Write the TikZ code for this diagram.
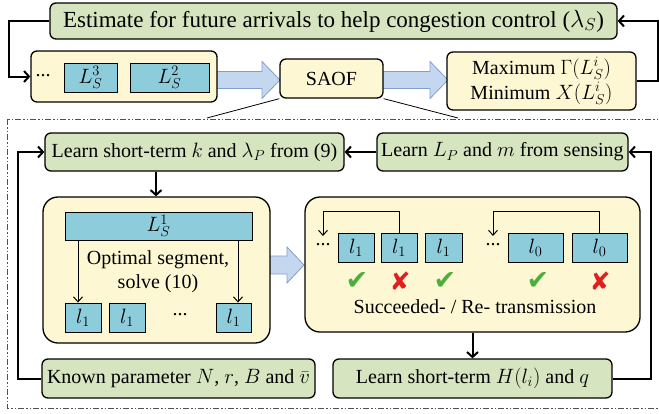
\documentclass[tikz,border=0pt]{standalone}
\usepackage{fontspec}
\setmainfont{Liberation Serif}
\newfontfamily\symfont{DejaVu Sans}
\usetikzlibrary{arrows.meta}
\definecolor{gfill}{HTML}{D6E4BF}
\definecolor{yfill}{HTML}{FDF8D3}
\definecolor{bfill}{HTML}{8DCCDB}
\definecolor{afill}{HTML}{C5D7EE}
\definecolor{aborder}{HTML}{7F9FCF}
\definecolor{chkgreen}{HTML}{4CAF3C}
\definecolor{crossred}{HTML}{E02020}
\definecolor{framegray}{HTML}{505050}
\begin{document}
\begin{tikzpicture}[x=1pt,y=-1pt, font=\fontsize{20}{26}\selectfont,
 box/.style={draw=black, line width=1.3pt, rounded corners=6pt, inner sep=0pt, align=center},
 gbox/.style={box, fill=gfill},
 ybox/.style={box, fill=yfill},
 bigbox/.style={box, fill=yfill, rounded corners=15pt},
 bbox/.style={draw=black, line width=0.9pt, fill=bfill, inner sep=0pt},
 conn/.style={line width=2pt, -{Straight Barb[length=5pt,width=11pt]}},
 thinarrow/.style={line width=1pt, -{Straight Barb[length=5pt,width=9pt]}},
 thinline/.style={line width=0.8pt},
 bigarrow/.style={fill=afill, draw=aborder, line width=0.8pt},
 framestyle/.style={draw=framegray, line width=1pt, dash pattern=on 6pt off 2pt on 1.5pt off 2pt on 1.5pt off 2pt},
 chk/.style={text=chkgreen, font=\symfont\fontsize{27}{27}\selectfont, inner sep=0pt},
 crs/.style={text=crossred, font=\symfont\fontsize{25}{25}\selectfont, inner sep=0pt}]
\useasboundingbox (0,0) rectangle (659,413);

% frame (right side lies beyond the picture)
\draw[framestyle] (7,119) rectangle (670,408);

% big block arrows
\draw[bigarrow] (217,71.5) -- (262,71.5) -- (262,61.5) -- (280,80) -- (262,98.5) -- (262,88.5) -- (217,88.5) -- cycle;
\draw[bigarrow] (383,71.5) -- (430,71.5) -- (430,61.5) -- (448,80) -- (430,98.5) -- (430,88.5) -- (383,88.5) -- cycle;
\draw[bigarrow] (270,256) -- (287,256) -- (287,247) -- (304,265) -- (287,283) -- (287,274) -- (270,274) -- cycle;

% top row
\node[gbox, minimum width=567pt, minimum height=36pt, font=\fontsize{23}{26}\selectfont] (top) at (333.5,21) {Estimate for future arrivals to help congestion control ($\lambda_S$)};
\node[ybox, minimum width=186pt, minimum height=51pt] (lbox) at (124,76.5) {};
\node[inner sep=0pt] (dots0) at (43,76) {...};
\node[bbox, minimum width=53pt, minimum height=29pt] (ls3) at (90.5,77.5) {$L_S^3$};
\node[bbox, minimum width=79pt, minimum height=29pt] (ls2) at (169.5,77.5) {$L_S^2$};
\node[ybox, minimum width=103pt, minimum height=39pt] (saof) at (331.5,78.5) {SAOF};
\node[ybox, minimum width=189pt, minimum height=58pt, font=\fontsize{20}{25}\selectfont] (maxb) at (541.5,81) {Maximum $\Gamma(L_S^i)$\\Minimum $X(L_S^i)$};

\coordinate (fl) at (207,118);
\coordinate (fr) at (458,118);
\draw[thinline] (saof.south west) -- (fl);
\draw[thinline] (saof.south east) -- (fr);

\draw[conn] (top.west) -- (9,21) |- (lbox.west);
\draw[conn] (maxb.east) -| (657.5,21) -- (top.east);

% inner row
\node[gbox, minimum width=299pt, minimum height=38pt] (kbox) at (194.5,152) {Learn short-term $k$ and $\lambda_P$ from (9)};
\node[gbox, minimum width=251pt, minimum height=38pt] (sense) at (502.5,152) {Learn $L_P$ and $m$ from sensing};

% left big box
\node[bigbox, minimum width=227pt, minimum height=146pt] (lbig) at (156.5,270) {};
\node[bbox, minimum width=187pt, minimum height=28pt] (ls1) at (158.5,226) {$L_S^1$};
\node[bbox, minimum width=36pt, minimum height=29pt] (la) at (83,317.5) {$l_1$};
\node[bbox, minimum width=36pt, minimum height=29pt] (lb) at (127,317.5) {$l_1$};
\node[inner sep=0pt] (dotsl) at (180,315) {...};
\node[bbox, minimum width=35pt, minimum height=29pt] (lc) at (233.5,317.5) {$l_1$};
\node[align=center, inner sep=0pt] (opt) at (158,272) {Optimal segment,\\[-2pt]solve (10)};
\draw[thinarrow] (ls1.south -| 78,0) -- (la.north -| 78,0);
\draw[thinarrow] (ls1.south -| 238,0) -- (lc.north -| 238,0);

% right big box
\node[bigbox, minimum width=335pt, minimum height=135pt] (rbig) at (472.5,264.5) {};
\node[bbox, minimum width=36pt, minimum height=29pt] (r1) at (356,247.5) {$l_1$};
\node[bbox, minimum width=36pt, minimum height=29pt] (r2) at (399,247.5) {$l_1$};
\node[bbox, minimum width=37pt, minimum height=29pt] (r3) at (443.5,247.5) {$l_1$};
\node[bbox, minimum width=55pt, minimum height=29pt] (r4) at (535.5,247.5) {$l_0$};
\node[bbox, minimum width=55pt, minimum height=29pt] (r5) at (599.5,247.5) {$l_0$};
\node[inner sep=0pt] (dotsr1) at (323,245) {...};
\node[inner sep=0pt] (dotsr2) at (493,245) {...};
\coordinate (d1) at (323,236);
\coordinate (d2) at (493,236);
\draw[thinarrow] (r2.north) -- (399,211) -| (d1);
\draw[thinarrow] (r5.north) -- (599.5,211) -| (d2);

\node[chk] (c1) at (357,281) {✔};
\node[crs] (x1) at (400,281) {✘};
\node[chk] (c2) at (445,281) {✔};
\node[chk] (c3) at (538,281) {✔};
\node[crs] (x2) at (600,281) {✘};
\node[inner sep=0pt] (succ) at (475,307) {Succeeded- / Re- transmission};

% bottom row
\node[gbox, minimum width=273pt, minimum height=39pt] (known) at (178.5,378.5) {Known parameter $N$, $r$, $B$ and $\bar{v}$};
\node[gbox, minimum width=279pt, minimum height=39pt] (hbox) at (472.5,378.5) {Learn short-term $H(l_i)$ and $q$};

% connectors
\draw[conn] (sense.west) -- (kbox.east);
\draw[conn] (hbox.east) -| (651,152) -- (sense.east);
\draw[conn] (known.west) -| (18,152) -- (kbox.west);
\draw[conn] (kbox.south -| 156,0) -- (lbig.north -| 156,0);
\draw[conn] (rbig.south) -- (hbox.north);
\end{tikzpicture}
\end{document}
